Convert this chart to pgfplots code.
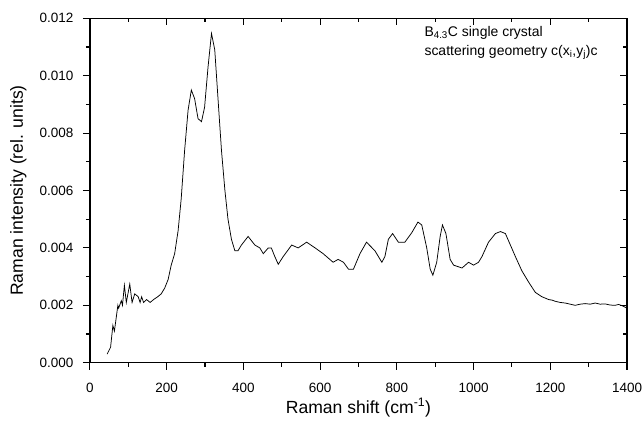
\documentclass[border=0pt]{standalone}
\usepackage{pgfplots}
\pgfplotsset{compat=1.18}
\usepackage{fontspec}
\setmainfont{Liberation Sans}
\pgfplotsset{
  common/.style={
    scale only axis,
    width=538pt, height=345pt,
    xmin=0, xmax=1400, ymin=0, ymax=0.012,
    xtick={0,200,...,1400},
    minor xtick={100,300,...,1300},
    ytick={0,0.002,...,0.012},
    minor ytick={0.001,0.003,...,0.011},
    scaled y ticks=false,
    major tick length=7pt, minor tick length=4pt,
    axis line style={line width=1.3pt},
    every tick/.style={line width=1.1pt, black},
  }
}
\begin{document}
\begin{tikzpicture}
\useasboundingbox (-90pt,-60pt) rectangle (553pt,363.3pt);
\begin{axis}[
  common,
  xtick pos=left, ytick pos=left,
  tick align=outside,
  /pgf/number format/assume math mode=true,
  tick label style={font=\fontsize{13.5}{15}\selectfont},
  yticklabel style={/pgf/number format/fixed, /pgf/number format/fixed zerofill,
    /pgf/number format/precision=3, xshift=-6pt},
  xticklabel style={/pgf/number format/1000 sep={}, yshift=-10pt},
  xlabel={Raman shift (cm\textsuperscript{-1})},
  ylabel={Raman intensity (rel. units)},
  label style={font=\fontsize{17.6}{20}\selectfont},
  xlabel style={at={(axis description cs:0.5,-0.13)}, anchor=center},
  ylabel style={at={(axis description cs:-0.133,0.5)}, anchor=center},
]
\addplot[black, line width=0.75pt] coordinates {
(45,0.0003) (54,0.00054) (60,0.0013) (64,0.0011) (73,0.002) (75,0.0019) (82,0.00216) (85,0.002)
(90,0.0027) (95,0.0021) (104,0.00274) (110,0.0021) (117,0.0024) (126,0.0023) (131,0.0021) (135,0.0023)
(140,0.0021) (148,0.0022) (157,0.0021) (166,0.0022) (177,0.0023) (186,0.0024) (195,0.0026)
(204,0.0029) (212,0.0034) (221,0.0038) (230,0.0046) (238,0.0057) (247,0.0074) (256,0.0088)
(264.5,0.0095) (273,0.0092) (282,0.0085) (291,0.0084) (299,0.0089) (308,0.0103) (317,0.01147)
(325.5,0.0109) (334,0.0092) (343,0.0074) (352,0.006) (360,0.005) (369,0.0043) (378,0.0039)
(386,0.0039) (395,0.0041) (412.5,0.0044) (430,0.0041) (443,0.004) (452,0.0038) (465,0.004)
(473,0.004) (482,0.0037) (491,0.00343) (504,0.0037) (526,0.0041) (543,0.0040) (565,0.0042)
(587,0.004) (608,0.0038) (634,0.0035) (647,0.0036) (661,0.0035) (674,0.00326) (687,0.00326)
(704,0.0038) (721,0.0042) (743,0.0039) (761,0.0035) (769,0.0037) (778,0.0043) (789,0.0045)
(804,0.0042) (821,0.0042) (839,0.00453) (855,0.0049) (865,0.0048) (878,0.004) (887,0.00326)
(894,0.00305) (904,0.0035) (913,0.0044) (919,0.0048) (928,0.0045) (939,0.0036) (948,0.0034)
(970,0.0033) (987,0.0035) (1000,0.0034) (1013,0.0035) (1022,0.0037) (1039,0.0042) (1057,0.0045)
(1070,0.00457) (1083,0.0045) (1096,0.0041) (1109,0.0037) (1126,0.0032) (1144,0.0028)
(1161,0.00245) (1178,0.0023) (1187,0.00225) (1196,0.0022) (1205,0.00218) (1213,0.00214)
(1226,0.0021) (1239,0.00208) (1252,0.00204) (1265,0.002) (1278,0.00204) (1291,0.00206)
(1304,0.00204) (1317,0.00208) (1330,0.00204) (1343,0.00205) (1356,0.00201) (1369,0.002)
(1378,0.00203) (1387,0.00199) (1400,0.0019)
};
\node[anchor=base west, align=left, font=\fontsize{14}{19}\selectfont] at (axis cs:863,0.01072)
  {B\textsubscript{4.3}C single crystal\\scattering geometry c(x\textsubscript{i},y\textsubscript{j})c};
\end{axis}
\begin{axis}[
  common,
  xtick pos=right, ytick pos=right,
  tick align=inside,
  xticklabels={}, yticklabels={},
]
\end{axis}
\end{tikzpicture}
\end{document}
